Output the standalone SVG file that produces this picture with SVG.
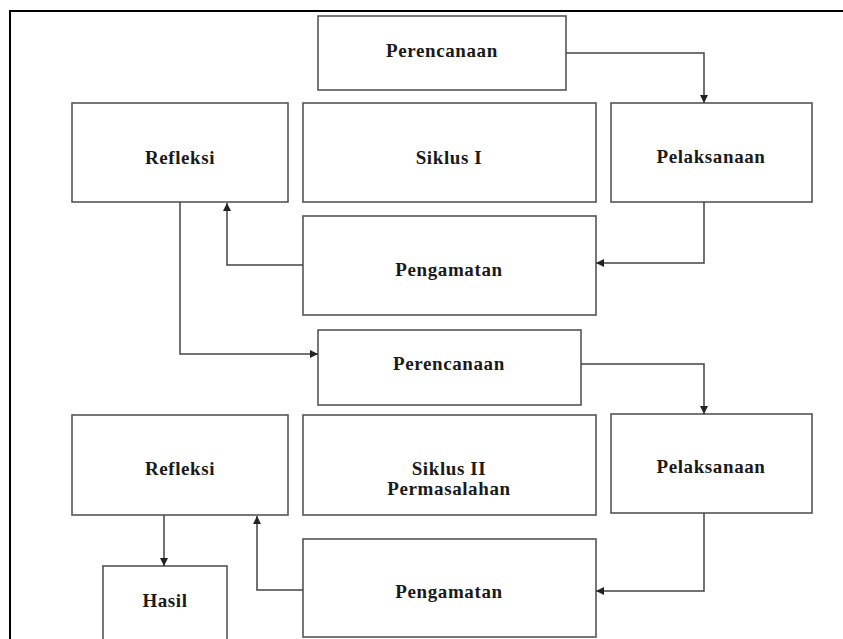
<svg xmlns="http://www.w3.org/2000/svg" width="843" height="639" viewBox="0 0 843 639">
<style>
.box{fill:#fff;stroke:#555;stroke-width:1.6}
.lbl{font-family:"Liberation Serif","Times New Roman",serif;font-weight:bold;font-size:19px;letter-spacing:0.6px;fill:#1a1a1a;text-anchor:middle}
.conn{fill:none;stroke:#444;stroke-width:1.5}
</style>
<defs>
<marker id="arr" markerUnits="userSpaceOnUse" markerWidth="9" markerHeight="8" refX="8" refY="4" orient="auto">
<path d="M0,0 L8,4 L0,8 Z" fill="#222"/>
</marker>
</defs>
<rect width="843" height="639" fill="#fff"/>
<path d="M10,639 L10,11 L843,11" fill="none" stroke="#000" stroke-width="2"/>
<g id="perencanaan1"><rect class="box" x="318" y="16" width="248" height="74"/><text class="lbl" x="442" y="57">Perencanaan</text></g>
<g id="refleksi1"><rect class="box" x="72" y="103" width="216" height="99"/><text class="lbl" x="180" y="164">Refleksi</text></g>
<g id="siklus1"><rect class="box" x="303" y="103" width="293" height="99"/><text class="lbl" x="449" y="164">Siklus I</text></g>
<g id="pelaksanaan1"><rect class="box" x="611" y="103" width="201" height="99"/><text class="lbl" x="711" y="163">Pelaksanaan</text></g>
<g id="pengamatan1"><rect class="box" x="303" y="216" width="293" height="99"/><text class="lbl" x="449" y="276">Pengamatan</text></g>
<g id="perencanaan2"><rect class="box" x="318" y="330" width="263" height="75"/><text class="lbl" x="449" y="370">Perencanaan</text></g>
<g id="refleksi2"><rect class="box" x="72" y="415" width="216" height="100"/><text class="lbl" x="180" y="475">Refleksi</text></g>
<g id="siklus2"><rect class="box" x="303" y="415" width="293" height="100"/><text class="lbl" x="449" y="475">Siklus II</text><text class="lbl" x="449" y="495">Permasalahan</text></g>
<g id="pelaksanaan2"><rect class="box" x="611" y="414" width="201" height="99"/><text class="lbl" x="711" y="473">Pelaksanaan</text></g>
<g id="pengamatan2"><rect class="box" x="303" y="539" width="293" height="98"/><text class="lbl" x="449" y="598">Pengamatan</text></g>
<g id="hasil"><rect class="box" x="103" y="566" width="124" height="80"/><text class="lbl" x="165" y="607">Hasil</text></g>
<g id="connectors">
<path class="conn" marker-end="url(#arr)" d="M566,53 L704,53 L704,103"/>
<path class="conn" marker-end="url(#arr)" d="M704,202 L704,263 L596,263"/>
<path class="conn" marker-end="url(#arr)" d="M303,265 L227,265 L227,203"/>
<path class="conn" marker-end="url(#arr)" d="M180,202 L180,354 L318,354"/>
<path class="conn" marker-end="url(#arr)" d="M581,364 L704,364 L704,414"/>
<path class="conn" marker-end="url(#arr)" d="M704,513 L704,591 L596,591"/>
<path class="conn" marker-end="url(#arr)" d="M303,590 L257,590 L257,516"/>
<path class="conn" marker-end="url(#arr)" d="M164,515 L164,566"/>
</g>
</svg>
